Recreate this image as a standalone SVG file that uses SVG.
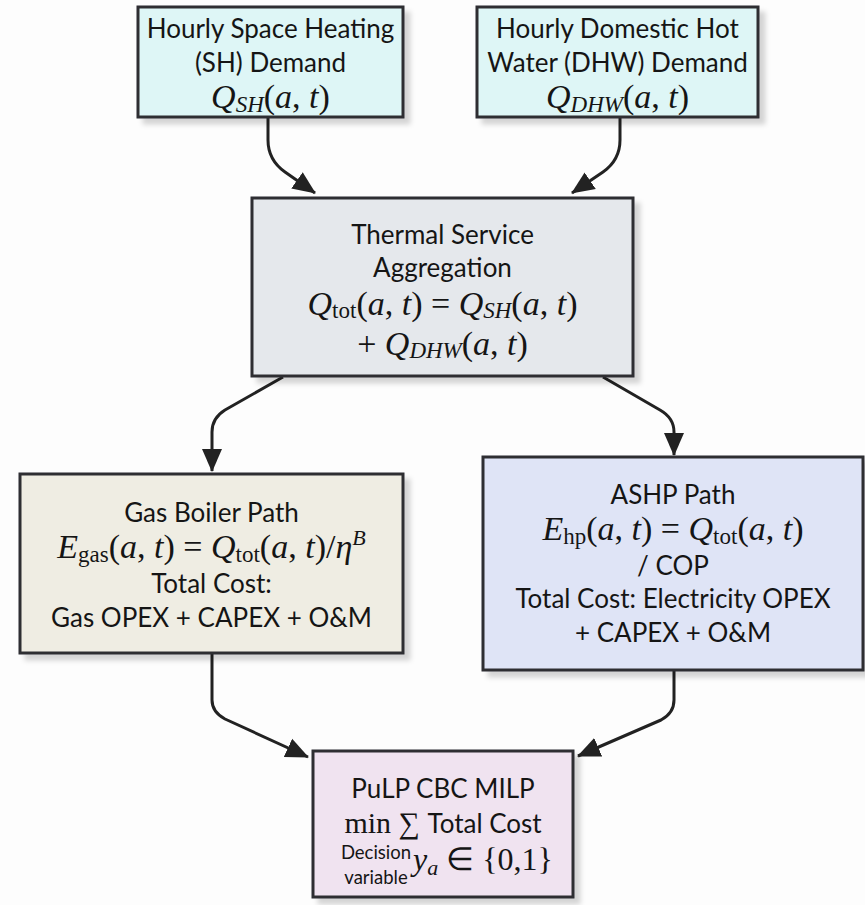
<svg xmlns="http://www.w3.org/2000/svg" width="865" height="905" viewBox="0 0 865 905">
<defs>
<style>
.box{stroke:#2f2f33;stroke-width:3;filter:url(#sh)}
.t{font-family:Lato,"Liberation Sans",sans-serif;font-size:26px;fill:#151515;text-anchor:middle}
.m{font-family:"Liberation Serif",serif;font-size:34px;fill:#151515;text-anchor:middle}
.i{font-style:italic}
.sub{font-size:23px}
.ss{font-size:22px}
.conn{fill:none;stroke:#222;stroke-width:3;stroke-linejoin:round;marker-end:url(#ah)}
</style>
<filter id="sh" x="-10%" y="-10%" width="130%" height="130%">
<feDropShadow dx="6" dy="6" stdDeviation="2.5" flood-color="#000" flood-opacity="0.16"/>
</filter>
<marker id="ah" markerUnits="userSpaceOnUse" markerWidth="24" markerHeight="22" viewBox="0 0 24 22" refX="22" refY="11" orient="auto">
<path d="M0,1 L23,11 L0,21 Z" fill="#222"/>
</marker>
</defs>
<rect width="865" height="905" fill="#fdfdfd"/>

<g id="connectors">
<path class="conn" d="M268,118 L268,140 Q268,160 285,172 L315,193"/>
<path class="conn" d="M620,118 L620,140 Q620,160 603,172 L572,193"/>
<path class="conn" d="M283,377 L225,410 Q212,418 212,432 L212,471"/>
<path class="conn" d="M603,377 L660,410 Q674,418 674,432 L674,455"/>
<path class="conn" d="M212,654 L212,700 Q212,712 225,719 L308,757"/>
<path class="conn" d="M674,671 L674,700 Q674,713 661,720 L578,756"/>
</g>

<g id="sh-demand">
<rect class="box" x="138" y="7" width="265" height="110" fill="#def6f6"/>
<text class="t" x="270.5" y="38">Hourly Space Heating</text>
<text class="t" x="270.5" y="72">(SH) Demand</text>
<text class="m" x="270.5" y="108"><tspan class="i">Q</tspan><tspan class="i sub" dy="4">SH</tspan><tspan dy="-4">(</tspan><tspan class="i">a</tspan>, <tspan class="i">t</tspan>)</text>
</g>

<g id="dhw-demand">
<rect class="box" x="477" y="7" width="281" height="110" fill="#def6f6"/>
<text class="t" x="617.5" y="38">Hourly Domestic Hot</text>
<text class="t" x="617.5" y="72">Water (DHW) Demand</text>
<text class="m" x="617.5" y="108"><tspan class="i">Q</tspan><tspan class="i sub" dy="4">DHW</tspan><tspan dy="-4">(</tspan><tspan class="i">a</tspan>, <tspan class="i">t</tspan>)</text>
</g>

<g id="aggregation">
<rect class="box" x="252" y="198" width="381" height="178" fill="#e5e8ec"/>
<text class="t" x="442.5" y="244">Thermal Service</text>
<text class="t" x="442.5" y="277">Aggregation</text>
<text class="m" x="442.5" y="315"><tspan class="i">Q</tspan><tspan class="sub" dy="3">tot</tspan><tspan dy="-3">(</tspan><tspan class="i">a</tspan>, <tspan class="i">t</tspan>) = <tspan class="i">Q</tspan><tspan class="i sub" dy="3">SH</tspan><tspan dy="-3">(</tspan><tspan class="i">a</tspan>, <tspan class="i">t</tspan>)</text>
<text class="m" x="442.5" y="355">+ <tspan class="i">Q</tspan><tspan class="i sub" dy="3">DHW</tspan><tspan dy="-3">(</tspan><tspan class="i">a</tspan>, <tspan class="i">t</tspan>)</text>
</g>

<g id="gas-boiler">
<rect class="box" x="20" y="474" width="383" height="179" fill="#efede3"/>
<text class="t" x="211.5" y="522">Gas Boiler Path</text>
<text class="m" x="211.5" y="558"><tspan class="i">E</tspan><tspan class="sub" dy="4">gas</tspan><tspan dy="-4">(</tspan><tspan class="i">a</tspan>, <tspan class="i">t</tspan>) = <tspan class="i">Q</tspan><tspan class="sub" dy="4">tot</tspan><tspan dy="-4">(</tspan><tspan class="i">a</tspan>, <tspan class="i">t</tspan>)/<tspan class="i">η</tspan><tspan class="i ss" dy="-13">B</tspan></text>
<text class="t" x="211.5" y="593">Total Cost:</text>
<text class="t" x="211.5" y="627">Gas OPEX + CAPEX + O&amp;M</text>
</g>

<g id="ashp">
<rect class="box" x="483" y="457" width="380" height="213" fill="#dfe4f6"/>
<text class="t" x="673" y="504">ASHP Path</text>
<text class="m" x="673" y="540"><tspan class="i">E</tspan><tspan class="sub" dy="4">hp</tspan><tspan dy="-4">(</tspan><tspan class="i">a</tspan>, <tspan class="i">t</tspan>) = <tspan class="i">Q</tspan><tspan class="sub" dy="4">tot</tspan><tspan dy="-4">(</tspan><tspan class="i">a</tspan>, <tspan class="i">t</tspan>)</text>
<text class="t" x="673" y="575">/ COP</text>
<text class="t" x="673" y="608">Total Cost: Electricity OPEX</text>
<text class="t" x="673" y="642">+ CAPEX + O&amp;M</text>
</g>

<g id="milp">
<rect class="box" x="313" y="751" width="260" height="146" fill="#f0e3f0"/>
<text class="t" x="443" y="798">PuLP CBC MILP</text>
<text class="m" x="443" y="833" style="font-size:30px">min ∑ <tspan style="font-family:Lato,'Liberation Sans',sans-serif;font-size:26px">Total Cost</tspan></text>
<text class="t" x="376" y="859" style="font-size:18.5px">Decision</text>
<text class="t" x="376" y="884" style="font-size:18.5px">variable</text>
<text class="m" x="413" y="870" style="text-anchor:start;font-size:32px"><tspan class="i">y</tspan><tspan class="i sub" dy="5" style="font-size:22px">a</tspan><tspan dy="-5"> ∈ {0,1}</tspan></text>
</g>
</svg>
